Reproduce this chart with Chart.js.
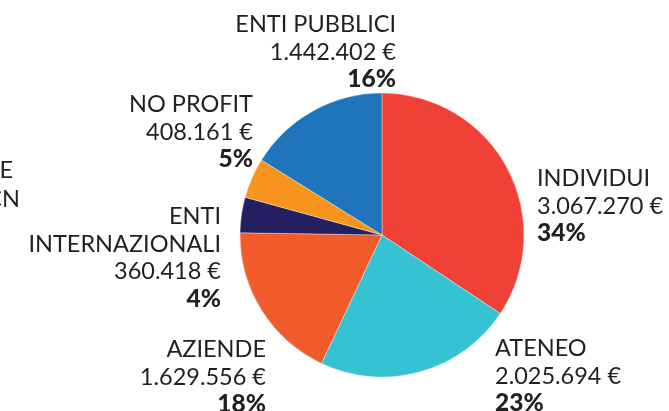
<!DOCTYPE html>
<html><head><meta charset="utf-8">
<script src="https://cdn.jsdelivr.net/npm/chart.js@4"></script>
<style>html,body{margin:0;padding:0;background:#fff;}#wrap{position:relative;width:669px;height:411px;}</style>
</head><body><div id="wrap"><canvas id="c" width="669" height="411"></canvas></div>
<script>
const categories = ['INDIVIDUI', 'ATENEO', 'AZIENDE', ['ENTI', 'INTERNAZIONALI'], 'NO PROFIT', 'ENTI PUBBLICI'];
const amounts = [3067270, 2025694, 1629556, 360418, 408161, 1442402];
const colors = ['#EF4136', '#35C2D2', '#F15A2B', '#252061', '#F7941E', '#1F75BB'];

// label anchor layout: x, first baseline y, alignment
const labelLayout = [
  {x: 537, y: 186, align: 'left'},
  {x: 495, y: 356, align: 'left'},
  {x: 266, y: 357, align: 'right'},
  {x: 221, y: 224, align: 'right'},
  {x: 253, y: 112, align: 'right'},
  {x: 396, y: 32, align: 'right'}
];
const LINE = 27.6;
const FONT_LIGHT = '400 23.5px Lato, "Open Sans", sans-serif';
const FONT_BOLD = '900 24.5px Lato, "Open Sans", sans-serif';

function fmt(n){ return String(n).replace(/\B(?=(\d{3})+(?!\d))/g, '.') + ' €'; }

const labelsPlugin = {
  id: 'outLabels',
  afterDraw(chart){
    const ctx = chart.ctx;
    const data = chart.data.datasets[0].data;
    const total = data.reduce((a,b)=>a+b,0);
    ctx.save();
    ctx.fillStyle = '#231F20';
    ctx.textBaseline = 'alphabetic';
    chart.data.labels.forEach((lab, i) => {
      const L = labelLayout[i];
      const lines = Array.isArray(lab) ? lab.slice() : [lab];
      lines.push(fmt(data[i]));
      ctx.textAlign = L.align;
      let y = L.y;
      ctx.font = FONT_LIGHT;
      lines.forEach(t => { ctx.fillText(t, L.x, y); y += LINE; });
      ctx.font = FONT_BOLD;
      ctx.fillText(Math.round(data[i] / total * 100) + '%', L.x, y);
    });
    // cut-off side text at the left edge
    ctx.font = FONT_LIGHT;
    ctx.textAlign = 'right';
    ctx.fillText('E', 13, 178);
    ctx.fillText('CN', 20, 207);
    ctx.restore();
  }
};

new Chart(document.getElementById('c'), {
  type: 'pie',
  data: {
    labels: categories,
    datasets: [{
      data: amounts,
      backgroundColor: colors,
      borderColor: 'rgba(255,255,255,0.6)',
      borderWidth: 0.6
    }]
  },
  options: {
    responsive: false,
    animation: false,
    radius: 142,
    layout: {padding: {left: 240, right: 145, top: 93, bottom: 34}},
    plugins: {legend: {display: false}, tooltip: {enabled: false}}
  },
  plugins: [labelsPlugin]
});
</script>
</body></html>
